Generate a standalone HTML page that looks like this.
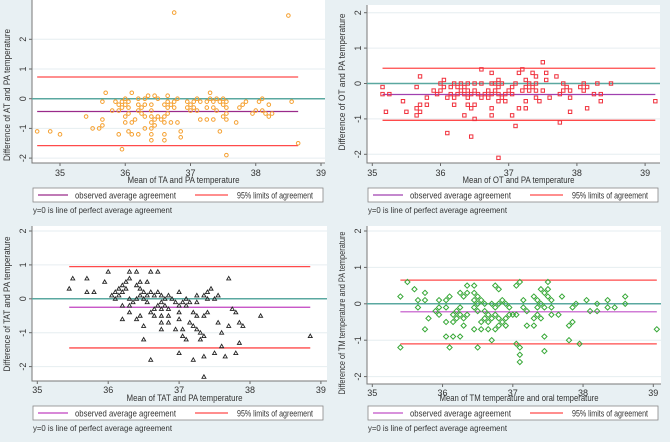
<!DOCTYPE html>
<html><head><meta charset="utf-8">
<style>
body{margin:0;background:#e8f0f3;font-family:"Liberation Sans",sans-serif;}
svg{display:block}
</style></head>
<body>
<svg id="chart" width="670" height="442" xmlns="http://www.w3.org/2000/svg" style="background:#e8f0f3"></svg>
<script>
// ---- Data ----
const xTicks=[35,36,37,38,39];
const yTicks=[-2,-1,0,1,2];
const p1Stats=[-0.43,0.73,-1.58];
const p1Range=[34.65,38.65];
const p1Points=[[34.65,-1.1],[34.85,-1.1],[35.0,-1.2],[35.4,-0.6],[35.5,-1.0],[35.6,-1.0],[35.65,-0.9],[35.65,-0.7],[35.65,-0.1],[35.7,0.2],[35.8,-0.4],[35.85,-0.1],[35.9,-0.2],[35.9,-0.4],[35.9,-1.2],[35.95,-0.3],[35.95,-0.1],[35.95,-1.7],[36.0,0],[36.0,-0.2],[36.0,-0.6],[36.0,-0.8],[36.05,-0.1],[36.05,-0.3],[36.05,-0.5],[36.05,-1.1],[36.1,0.2],[36.1,-0.8],[36.1,-1.2],[36.15,-0.7],[36.2,0],[36.2,-0.2],[36.2,-0.4],[36.2,-1.2],[36.25,-0.3],[36.25,-0.5],[36.3,0],[36.3,-0.2],[36.3,-0.6],[36.3,-1.0],[36.35,0.1],[36.4,-0.2],[36.4,-0.4],[36.4,-0.6],[36.4,-0.8],[36.4,-1.0],[36.4,-1.2],[36.4,-1.4],[36.45,0.1],[36.45,-0.7],[36.45,-0.9],[36.5,0],[36.5,-0.6],[36.55,-0.7],[36.6,-0.2],[36.6,-0.6],[36.6,-0.8],[36.6,-1.2],[36.6,-1.4],[36.65,0.1],[36.65,-0.1],[36.65,-0.3],[36.65,-0.5],[36.7,-0.2],[36.7,-0.8],[36.75,2.9],[36.75,-0.1],[36.75,-0.3],[36.8,0],[36.8,-0.8],[36.85,-1.1],[36.85,-1.3],[36.95,-0.1],[36.95,-0.3],[37.0,-0.2],[37.0,-0.4],[37.05,-0.1],[37.05,-0.3],[37.1,0],[37.1,-0.4],[37.15,-0.1],[37.15,-0.7],[37.25,-0.1],[37.25,-0.3],[37.25,-0.7],[37.3,0.2],[37.3,0],[37.35,-0.1],[37.35,-0.3],[37.35,-0.7],[37.4,0],[37.4,-0.4],[37.45,-0.1],[37.45,-1.1],[37.5,0],[37.5,-0.2],[37.5,-0.6],[37.55,-0.1],[37.55,-0.3],[37.55,-0.5],[37.55,-0.7],[37.55,-1.9],[37.7,-0.8],[37.75,-0.3],[37.8,-0.2],[37.85,-0.1],[37.95,-0.5],[38.0,-0.4],[38.05,-0.1],[38.1,0],[38.1,-0.4],[38.15,-0.5],[38.2,-0.2],[38.2,-0.6],[38.25,-0.5],[38.5,2.8],[38.55,-0.1],[38.65,-1.5]];
const p2Stats=[-0.31,0.43,-1.04];
const p2Range=[35.15,39.15];
const p2Points=[[35.15,-0.1],[35.15,-0.3],[35.2,-0.8],[35.25,-0.3],[35.45,-0.5],[35.5,-0.8],[35.65,-0.1],[35.65,-0.7],[35.65,-0.9],[35.7,0.2],[35.7,-0.6],[35.7,-0.8],[35.8,-0.4],[35.8,-0.6],[35.9,-0.2],[35.95,-0.3],[36.0,0],[36.0,-0.2],[36.05,0.1],[36.05,-0.1],[36.1,-0.4],[36.1,-1.4],[36.15,-0.1],[36.15,-0.3],[36.2,0],[36.2,-0.4],[36.2,-0.6],[36.25,-0.1],[36.25,-0.3],[36.3,0],[36.3,-0.2],[36.35,-0.1],[36.35,-0.3],[36.35,-0.9],[36.4,0],[36.4,-0.2],[36.4,-0.4],[36.4,-0.6],[36.45,-0.3],[36.45,-0.7],[36.45,-1.5],[36.5,0],[36.5,-0.2],[36.5,-0.6],[36.5,-1.0],[36.55,-0.3],[36.6,0.4],[36.6,0],[36.6,-0.4],[36.65,-0.3],[36.7,-0.2],[36.7,-0.4],[36.75,0.3],[36.75,0],[36.75,-0.3],[36.75,-0.7],[36.75,-0.9],[36.8,-0.2],[36.8,0],[36.85,0.1],[36.85,-0.1],[36.85,-0.3],[36.85,-0.5],[36.85,-2.1],[36.9,0],[36.9,-0.4],[36.95,-0.3],[36.95,-0.5],[37.0,-0.2],[37.05,-0.1],[37.05,-0.3],[37.05,-0.9],[37.1,0],[37.1,-1.2],[37.15,0.3],[37.15,-0.7],[37.2,0.4],[37.2,-0.2],[37.25,0.1],[37.25,-0.1],[37.25,-0.5],[37.25,-0.7],[37.3,0],[37.3,-0.2],[37.35,0.3],[37.35,-0.1],[37.4,0.2],[37.4,0],[37.4,-0.2],[37.4,-0.4],[37.45,-0.5],[37.5,0.6],[37.5,-0.2],[37.55,0.3],[37.55,0.1],[37.6,-0.4],[37.7,0.2],[37.75,-0.3],[37.75,-1.1],[37.8,0],[37.8,-0.2],[37.85,-0.1],[37.9,-0.2],[37.9,-0.4],[37.9,-0.8],[38.05,-0.1],[38.1,0],[38.1,-0.2],[38.15,-0.1],[38.15,-0.7],[38.25,-0.3],[38.3,0],[38.35,-0.3],[38.35,-0.5],[38.5,0],[39.15,-0.5]];
const p3Stats=[-0.25,0.95,-1.45];
const p3Range=[35.45,38.85];
const p3Points=[[35.45,0.3],[35.5,0.6],[35.7,0.6],[35.7,0.2],[35.8,0.2],[35.95,0.5],[36.0,0.8],[36.05,0.1],[36.1,0.2],[36.1,0],[36.15,0.3],[36.15,0.1],[36.2,0.4],[36.2,0.2],[36.2,-0.2],[36.2,-0.6],[36.25,0.5],[36.25,0.3],[36.3,0.8],[36.3,0.6],[36.3,0],[36.3,-0.2],[36.3,-0.4],[36.35,-0.1],[36.4,0.8],[36.4,0.4],[36.4,0],[36.4,-0.6],[36.45,0.5],[36.45,0.3],[36.45,0.1],[36.45,-0.5],[36.5,0.2],[36.5,0],[36.5,-0.8],[36.5,-1.2],[36.55,0.5],[36.55,0.1],[36.55,-0.1],[36.6,0.8],[36.6,0.2],[36.6,-0.4],[36.6,-1.8],[36.65,0.1],[36.65,-0.3],[36.65,-0.5],[36.7,0.8],[36.7,0.2],[36.7,-0.2],[36.75,0.1],[36.75,-0.1],[36.75,-0.3],[36.75,-0.5],[36.75,-0.7],[36.75,-0.9],[36.8,0],[36.8,-0.2],[36.85,0.1],[36.85,-0.3],[36.85,-0.5],[36.85,-0.7],[36.9,0],[36.95,-0.1],[36.95,-0.9],[37.0,0.2],[37.0,-0.2],[37.0,-0.4],[37.0,-0.6],[37.0,-1.6],[37.05,-0.1],[37.05,-0.9],[37.05,-1.1],[37.1,0],[37.1,-0.2],[37.1,-1.2],[37.15,-0.1],[37.15,-0.7],[37.2,-0.4],[37.2,-0.8],[37.2,-1.8],[37.25,0.1],[37.25,-0.1],[37.25,-0.5],[37.25,-0.9],[37.3,-1.0],[37.3,-1.2],[37.35,0.1],[37.35,-0.5],[37.35,-1.1],[37.35,-1.7],[37.35,-2.3],[37.4,0.2],[37.4,0],[37.4,-0.4],[37.45,0.3],[37.5,0],[37.5,-1.6],[37.55,0.1],[37.55,-0.7],[37.6,-1.0],[37.6,-1.4],[37.65,-1.7],[37.7,0.6],[37.7,-0.8],[37.75,-0.3],[37.8,-0.4],[37.8,-1.6],[37.85,-0.7],[37.85,-1.3],[37.9,-0.8],[38.15,-0.5],[38.85,-1.1]];
const p4Stats=[-0.22,0.65,-1.1];
const p4Range=[35.4,39.05];
const p4Points=[[35.4,0.2],[35.4,-1.2],[35.5,0.6],[35.6,0.4],[35.65,0.1],[35.65,-0.1],[35.75,0.3],[35.75,0.1],[35.75,-0.7],[35.8,-0.4],[35.9,-0.2],[35.95,0.1],[35.95,-0.1],[35.95,-0.3],[36.05,0.1],[36.05,-0.1],[36.05,-0.5],[36.05,-0.9],[36.1,0.2],[36.1,-1.2],[36.15,-0.3],[36.15,-0.5],[36.15,-0.9],[36.2,-0.2],[36.2,-0.4],[36.25,0.3],[36.25,-0.1],[36.25,-0.3],[36.25,-0.9],[36.3,0.2],[36.3,-0.4],[36.3,-0.6],[36.35,0.5],[36.35,0.3],[36.35,-0.3],[36.45,0.5],[36.45,0.3],[36.45,0.1],[36.45,-0.1],[36.45,-0.7],[36.5,0.2],[36.5,0],[36.5,-0.2],[36.5,-1.2],[36.55,0.1],[36.55,-0.5],[36.55,-0.7],[36.6,0],[36.6,-0.2],[36.6,-0.4],[36.65,-0.3],[36.65,-0.5],[36.65,-0.7],[36.7,0],[36.7,-0.4],[36.7,-1.0],[36.75,0.5],[36.75,-0.1],[36.75,-0.3],[36.75,-0.7],[36.8,0.4],[36.8,0],[36.8,-0.4],[36.8,-0.6],[36.85,0.1],[36.85,-0.5],[36.9,0],[36.9,-0.4],[36.9,-0.6],[36.95,-0.1],[36.95,-0.3],[37.0,-0.3],[37.05,0.5],[37.05,-0.3],[37.05,-1.1],[37.1,0.6],[37.1,-1.2],[37.1,-1.4],[37.1,-1.6],[37.15,0.1],[37.15,-0.1],[37.2,-0.2],[37.2,-0.6],[37.3,0.2],[37.3,-0.4],[37.3,-0.6],[37.35,0.1],[37.35,-0.1],[37.35,-0.3],[37.4,0.4],[37.4,0],[37.4,-0.4],[37.45,0.3],[37.45,-0.1],[37.45,-0.9],[37.45,-1.3],[37.5,0.6],[37.5,0.4],[37.5,0.2],[37.55,0.1],[37.55,-0.1],[37.55,-0.3],[37.65,-0.3],[37.7,0.2],[37.8,-0.6],[37.8,-1.0],[37.85,-0.1],[37.85,-0.5],[37.9,0],[37.95,-1.1],[38.05,0.1],[38.1,-0.2],[38.2,0],[38.2,-0.2],[38.35,0.1],[38.35,-0.1],[38.45,-0.1],[38.6,0.2],[38.6,0],[39.05,-0.7]];

// ---- Layout (pixel geometry) ----
const panels=[
 {ox:0,oy:0,l:32,r:325,t:0,b:163,x0:60,xs:65.25,y0:98.7,ys:29.7,xt:183,lg:188,nt:213,tl:176,xw:112,yw:132,yc:95,
  xtitle:"Mean of TA and PA temperature",ytitle:"Difference of AT and PA temperature",pts:p1Points,st:p1Stats,rg:p1Range,mk:"circle",col:"#f5a030",meanCol:"#9a2a8a"},
 {ox:335,oy:0,l:32,r:325,t:5,b:163,x0:37.3,xs:68.2,y0:83.5,ys:35.4,xt:183,lg:188,nt:213,tl:176,xw:112,yw:137,yc:82,
  xtitle:"Mean of OT and PA temperature",ytitle:"Difference of OT and PA temperature",pts:p2Points,st:p2Stats,rg:p2Range,mk:"square",col:"#f0303c",meanCol:"#a040b0"},
 {ox:0,oy:221,l:32,r:327,t:5,b:160,x0:37.3,xs:70.9,y0:77.8,ys:33.9,xt:180,lg:185,nt:210,tl:172,xw:116,yw:135,yc:83,
  xtitle:"Mean of TAT and PA temperature",ytitle:"Difference of TAT and PA temperature",pts:p3Points,st:p3Stats,rg:p3Range,mk:"triangle",col:"#222",meanCol:"#c040c0"},
 {ox:335,oy:221,l:32,r:326,t:5,b:163,x0:37.3,xs:70.25,y0:82.8,ys:36.4,xt:180,lg:185,nt:210,tl:175,xw:159,yw:163,yc:92,
  xtitle:"Mean of TM temperature and oral temperature",ytitle:"Difference of TM temperature and PA temperature",pts:p4Points,st:p4Stats,rg:p4Range,mk:"diamond",col:"#38a838",meanCol:"#c050c8"}
];
const NS="http://www.w3.org/2000/svg";
const svg=document.getElementById('chart');
function mk(tag,attrs,parent){const e=document.createElementNS(NS,tag);for(const k in attrs)e.setAttribute(k,attrs[k]);parent.appendChild(e);return e;}

panels.forEach((p,i)=>{
 const g=mk('g',{transform:`translate(${p.ox},${p.oy})`},svg);
 
 
 const X=v=>p.x0+(v-35)*p.xs, Y=v=>p.y0-v*p.ys;
 const bg=mk('rect',{x:p.l,y:p.t,width:p.r-p.l,height:p.b-p.t,fill:'#fff'},g);
 
 
 yTicks.forEach(v=>{
  const gl=mk('line',{x1:p.l,x2:p.r,y1:Y(v),y2:Y(v),stroke:'#e6eef0','stroke-width':1},g);
  
  
  const tk=mk('line',{x1:p.l-3,x2:p.l,y1:Y(v),y2:Y(v),stroke:'#666'},g);
  
  
  const t=mk('text',{x:0,y:0,transform:`translate(${p.l-6},${Y(v)}) rotate(-90)`,'text-anchor':'middle','font-size':9,fill:'#333'},g);
  t.textContent=v;
  
  
 });
 xTicks.forEach(v=>{
  const tk=mk('line',{x1:X(v),x2:X(v),y1:p.b,y2:p.b+3,stroke:'#666'},g);
  
  
  const t=mk('text',{x:X(v),y:p.tl,'text-anchor':'middle','font-size':9,fill:'#333'},g);
  t.textContent=v;
  
  
 });
 const ax=mk('path',{d:`M${p.l},${p.t}V${p.b}H${p.r}`,fill:'none',stroke:'#777','stroke-width':1},g);
 
 
 const z=mk('line',{x1:p.l,x2:p.r,y1:Y(0),y2:Y(0),stroke:'#5aa8a0','stroke-width':1.5},g);
 
 
 const m=mk('line',{x1:X(p.rg[0]),x2:X(p.rg[1]),y1:Y(p.st[0]),y2:Y(p.st[0]),stroke:p.meanCol,'stroke-width':1.2},g);
 
 
 [p.st[1],p.st[2]].forEach((v,j)=>{
  const l=mk('line',{x1:X(p.rg[0]),x2:X(p.rg[1]),y1:Y(v),y2:Y(v),stroke:'#ff4a4a','stroke-width':1.3},g);
  
  
 });
 p.pts.forEach(([a,b])=>{
  const cx=X(a),cy=Y(b);let e;
  if(p.mk==='circle')e=mk('circle',{cx,cy,r:1.8,fill:'none',stroke:p.col,'stroke-width':1},g);
  else if(p.mk==='square')e=mk('rect',{x:cx-1.7,y:cy-1.7,width:3.4,height:3.4,fill:'none',stroke:p.col,'stroke-width':1},g);
  else if(p.mk==='triangle')e=mk('path',{d:`M${cx},${cy-2}L${cx+2},${cy+1.5}L${cx-2},${cy+1.5}Z`,fill:'none',stroke:p.col,'stroke-width':0.9},g);
  else e=mk('path',{d:`M${cx},${cy-2.6}L${cx+2.6},${cy}L${cx},${cy+2.6}L${cx-2.6},${cy}Z`,fill:'none',stroke:p.col,'stroke-width':1},g);
  
  
 });
 const xt=mk('text',{x:(p.l+p.r)/2+5,y:p.xt,'text-anchor':'middle','font-size':9.5,fill:'#333',textLength:p.xw,lengthAdjust:'spacingAndGlyphs'},g);
 xt.textContent=p.xtitle;
 
 
 const yt=mk('text',{x:0,y:0,transform:`translate(10,${p.yc}) rotate(-90)`,'text-anchor':'middle','font-size':9,fill:'#333',textLength:p.yw,lengthAdjust:'spacingAndGlyphs'},g);
 yt.textContent=p.ytitle;
 
 
 const lb=mk('rect',{x:33,y:p.lg,width:290,height:14,fill:'#fff',stroke:'#888','stroke-width':0.8},g);
 
 
 const l1=mk('line',{x1:38,x2:68,y1:p.lg+7,y2:p.lg+7,stroke:p.meanCol,'stroke-width':1.2},g);
 
 
 const t1=mk('text',{x:75,y:p.lg+10.5,'font-size':9.5,fill:'#333',textLength:101,lengthAdjust:'spacingAndGlyphs'},g);
 t1.textContent='observed average agreement';
 
 
 const l2=mk('line',{x1:195,x2:228,y1:p.lg+7,y2:p.lg+7,stroke:'#ff4a4a','stroke-width':1.2},g);
 
 
 const t2=mk('text',{x:237,y:p.lg+10.5,'font-size':9.5,fill:'#333',textLength:76,lengthAdjust:'spacingAndGlyphs'},g);
 t2.textContent='95% limits of agreement';
 
 
 const nt=mk('text',{x:33,y:p.nt,'font-size':8.5,fill:'#333',textLength:139,lengthAdjust:'spacingAndGlyphs'},g);
 nt.textContent='y=0 is line of perfect average agreement';
 
 
});
</script>
</body></html>
